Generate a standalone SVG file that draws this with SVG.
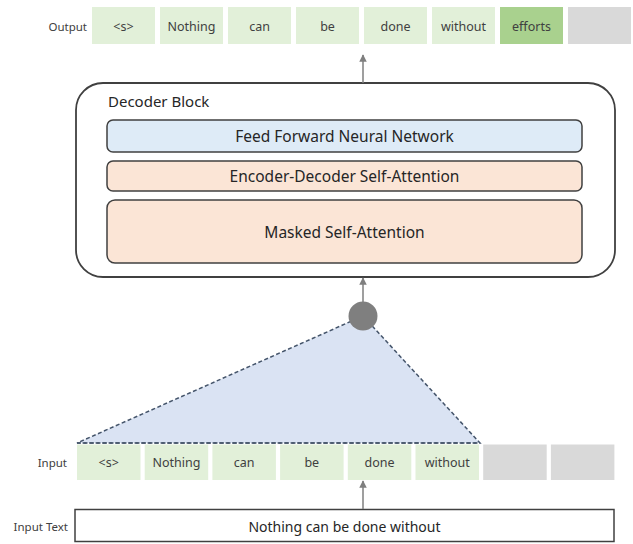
<svg xmlns="http://www.w3.org/2000/svg" width="633" height="544" viewBox="0 0 633 544">
<defs>
<style>
.lbl{font-family:"Noto Sans","Liberation Sans",sans-serif;font-size:11.5px;fill:#404040;dominant-baseline:central;text-anchor:end}
.cell{fill:#e2f0d9}
.gray{fill:#d9d9d9}
.ct{font-family:"Noto Sans","Liberation Sans",sans-serif;font-size:12.5px;fill:#404040;dominant-baseline:central;text-anchor:middle}
.inner{stroke:#404040;stroke-width:1.5}
.it{font-family:"Noto Sans","Liberation Sans",sans-serif;font-size:15.5px;fill:#262626;dominant-baseline:central;text-anchor:middle}
.conn{stroke:#7f7f7f;stroke-width:1.5;fill:none}
</style>
<marker id="ah" viewBox="0 0 10 10" refX="9" refY="5" markerWidth="5" markerHeight="5" orient="auto">
<path d="M0,0 L10,5 L0,10 z" fill="#7f7f7f"/>
</marker>
</defs>
<rect width="633" height="544" fill="#ffffff"/>

<g id="output-row">
<text class="lbl" x="87" y="26">Output</text>
<g id="out-0"><rect class="cell" x="92" y="7" width="63" height="37"/><text class="ct" x="123.5" y="26">&lt;s&gt;</text></g>
<g id="out-1"><rect class="cell" x="160" y="7" width="63" height="37"/><text class="ct" x="191.5" y="26">Nothing</text></g>
<g id="out-2"><rect class="cell" x="228" y="7" width="63" height="37"/><text class="ct" x="259.5" y="26">can</text></g>
<g id="out-3"><rect class="cell" x="296" y="7" width="63" height="37"/><text class="ct" x="327.5" y="26">be</text></g>
<g id="out-4"><rect class="cell" x="364" y="7" width="63" height="37"/><text class="ct" x="395.5" y="26">done</text></g>
<g id="out-5"><rect class="cell" x="432" y="7" width="63" height="37"/><text class="ct" x="463.5" y="26">without</text></g>
<g id="out-6"><rect x="500" y="7" width="63" height="37" fill="#a9d18e"/><text class="ct" x="531.5" y="26">efforts</text></g>
<g id="out-7"><rect class="gray" x="568" y="7" width="63" height="37"/></g>
</g>

<g id="decoder-block">
<rect x="76" y="83" width="539" height="194" rx="27" ry="27" fill="#ffffff" stroke="#404040" stroke-width="1.8"/>
<text x="108" y="101" font-family="Noto Sans, Liberation Sans, sans-serif" font-size="15" fill="#262626" dominant-baseline="central">Decoder Block</text>
</g>
<g id="ffnn">
<rect class="inner" x="107" y="120" width="475" height="32" rx="6" fill="#deebf7"/>
<text class="it" x="344.5" y="136">Feed Forward Neural Network</text>
</g>
<g id="enc-dec-attn">
<rect class="inner" x="107" y="161" width="475" height="30" rx="6" fill="#fbe5d6"/>
<text class="it" x="344.5" y="176">Encoder-Decoder Self-Attention</text>
</g>
<g id="masked-attn">
<rect class="inner" x="107" y="200" width="475" height="63" rx="8" fill="#fbe5d6"/>
<text class="it" x="344.5" y="232">Masked Self-Attention</text>
</g>

<g id="attention-fan">
<polygon points="363,316 77,443 480,443" fill="#dae3f3" stroke="#44546a" stroke-width="1.5" stroke-dasharray="4 2.5"/>
</g>
<g id="attn-node">
<circle cx="363" cy="316" r="14.5" fill="#7f7f7f"/>
</g>

<g id="input-row">
<text class="lbl" x="67" y="462">Input</text>
<g id="in-0"><rect class="cell" x="77" y="444.5" width="63.5" height="35.5"/><text class="ct" x="108.7" y="462">&lt;s&gt;</text></g>
<g id="in-1"><rect class="cell" x="144.7" y="444.5" width="63.5" height="35.5"/><text class="ct" x="176.4" y="462">Nothing</text></g>
<g id="in-2"><rect class="cell" x="212.4" y="444.5" width="63.5" height="35.5"/><text class="ct" x="244.1" y="462">can</text></g>
<g id="in-3"><rect class="cell" x="280.1" y="444.5" width="63.5" height="35.5"/><text class="ct" x="311.8" y="462">be</text></g>
<g id="in-4"><rect class="cell" x="347.8" y="444.5" width="63.5" height="35.5"/><text class="ct" x="379.5" y="462">done</text></g>
<g id="in-5"><rect class="cell" x="415.5" y="444.5" width="63.5" height="35.5"/><text class="ct" x="447.2" y="462">without</text></g>
<g id="in-6"><rect class="gray" x="483.2" y="444.5" width="63.5" height="35.5"/></g>
<g id="in-7"><rect class="gray" x="550.9" y="444.5" width="63.5" height="35.5"/></g>
</g>
<line x1="77" y1="443" x2="480" y2="443" stroke="#44546a" stroke-width="1.5" stroke-dasharray="4 2.5"/>

<g id="input-text">
<text class="lbl" x="68" y="526">Input Text</text>
<rect x="75" y="509.5" width="539" height="32" fill="#ffffff" stroke="#404040" stroke-width="1.5"/>
<text x="344.5" y="526" font-family="Noto Sans, Liberation Sans, sans-serif" font-size="14" fill="#262626" dominant-baseline="central" text-anchor="middle">Nothing can be done without</text>
</g>

<g id="connectors">
<line class="conn" x1="363" y1="83" x2="363" y2="55" marker-end="url(#ah)"/>
<line class="conn" x1="363" y1="302" x2="363" y2="278" marker-end="url(#ah)"/>
<line class="conn" x1="363" y1="509" x2="363" y2="481" marker-end="url(#ah)"/>
</g>
</svg>
